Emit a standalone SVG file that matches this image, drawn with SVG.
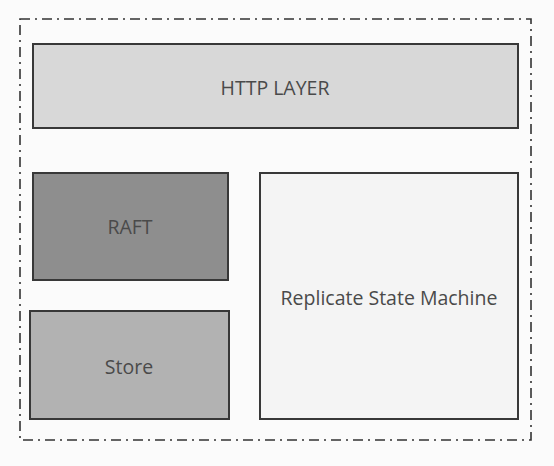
<svg xmlns="http://www.w3.org/2000/svg" width="554" height="466" viewBox="0 0 554 466">
<style>
.box{stroke:#383838;stroke-width:2}
.lbl{font-family:"Open Sans","Liberation Sans",sans-serif;font-size:19.5px;fill:#4a4a4a;text-anchor:middle;dominant-baseline:central}
.frame{fill:none;stroke:#333;stroke-width:1.6;stroke-dasharray:10 5 2 5}
</style>
<rect width="554" height="466" fill="#fbfbfb"/>
<g id="container"><rect class="frame" x="20" y="19" width="511" height="421"/></g>
<g id="http"><rect class="box" x="33" y="44" width="485" height="84" fill="#d8d8d8"/><text class="lbl" x="275" y="87">HTTP LAYER</text></g>
<g id="raft"><rect class="box" x="33" y="173" width="195" height="107" fill="#8e8e8e"/><text class="lbl" x="130" y="226">RAFT</text></g>
<g id="store"><rect class="box" x="30" y="311" width="199" height="108" fill="#b2b2b2"/><text class="lbl" x="129" y="366">Store</text></g>
<g id="rsm"><rect class="box" x="260" y="173" width="258" height="246" fill="#f4f4f4"/><text class="lbl" x="389" y="297">Replicate State Machine</text></g>
<g id="connectors"></g>
</svg>
